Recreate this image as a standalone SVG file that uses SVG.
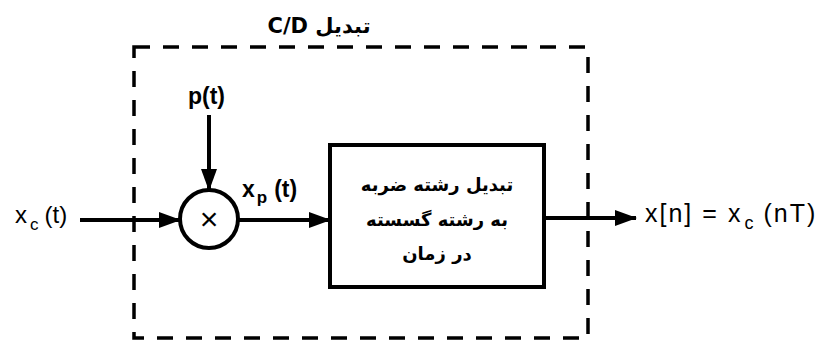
<svg xmlns="http://www.w3.org/2000/svg" width="823" height="343" viewBox="0 0 823 343">
<style>
.t{font-family:"Liberation Sans",Arial,sans-serif;fill:#000}
.fa{font-family:"DejaVu Sans","Noto Sans",sans-serif;font-weight:bold;fill:#000}
.w{stroke:#000;stroke-width:4;fill:none}
.dash{stroke:#000;stroke-width:3.5;fill:none;stroke-dasharray:16 13}
</style>
<defs>
<marker id="ah" markerWidth="22" markerHeight="16" refX="21" refY="8" orient="auto" markerUnits="userSpaceOnUse">
<path d="M0,0 L22,8 L0,16 Z" fill="#000"/>
</marker>
</defs>
<rect width="823" height="343" fill="#fff"/>
<g id="cd-box">
<rect x="134" y="47" width="454" height="291" class="dash"/>
<text class="fa" x="319" y="33" font-size="21" text-anchor="middle" direction="rtl">تبدیل C/D</text>
</g>
<g id="multiplier">
<circle cx="209" cy="219" r="29" class="w" fill="#fff"/>
<text class="t" x="209" y="230" font-size="32" text-anchor="middle">×</text>
</g>
<g id="converter">
<rect x="330" y="145" width="214" height="142" class="w"/>
<text class="fa" x="437" y="191" font-size="18" text-anchor="middle" direction="rtl">تبدیل رشته ضربه</text>
<text class="fa" x="437" y="226" font-size="18" text-anchor="middle" direction="rtl">به رشته گسسته</text>
<text class="fa" x="437" y="260" font-size="18" text-anchor="middle" direction="rtl">در زمان</text>
</g>
<g id="labels">
<text class="t" x="15" y="223" font-size="24">x<tspan font-size="17" dy="7" dx="3">c</tspan><tspan dy="-7" dx="6">(t)</tspan></text>
<text class="t" x="188" y="104" font-size="23" font-weight="bold">p(t)</text>
<text class="t" x="242" y="197" font-size="23" font-weight="bold">x<tspan font-size="17" dy="6" dx="2">p</tspan><tspan dy="-6" dx="7">(t)</tspan></text>
<text class="t" x="645" y="222" font-size="25" letter-spacing="2">x[n]<tspan dx="9">=</tspan><tspan dx="9">x</tspan><tspan font-size="18" dy="7" dx="2">c</tspan><tspan dy="-7" dx="8">(nT)</tspan></text>
</g>
<g id="connectors">
<line x1="80" y1="220" x2="180" y2="220" class="w" marker-end="url(#ah)"/>
<line x1="209" y1="115" x2="209" y2="190" class="w" marker-end="url(#ah)"/>
<line x1="238" y1="220" x2="330" y2="220" class="w" marker-end="url(#ah)"/>
<line x1="544" y1="218" x2="636" y2="218" class="w" marker-end="url(#ah)"/>
</g>
</svg>
